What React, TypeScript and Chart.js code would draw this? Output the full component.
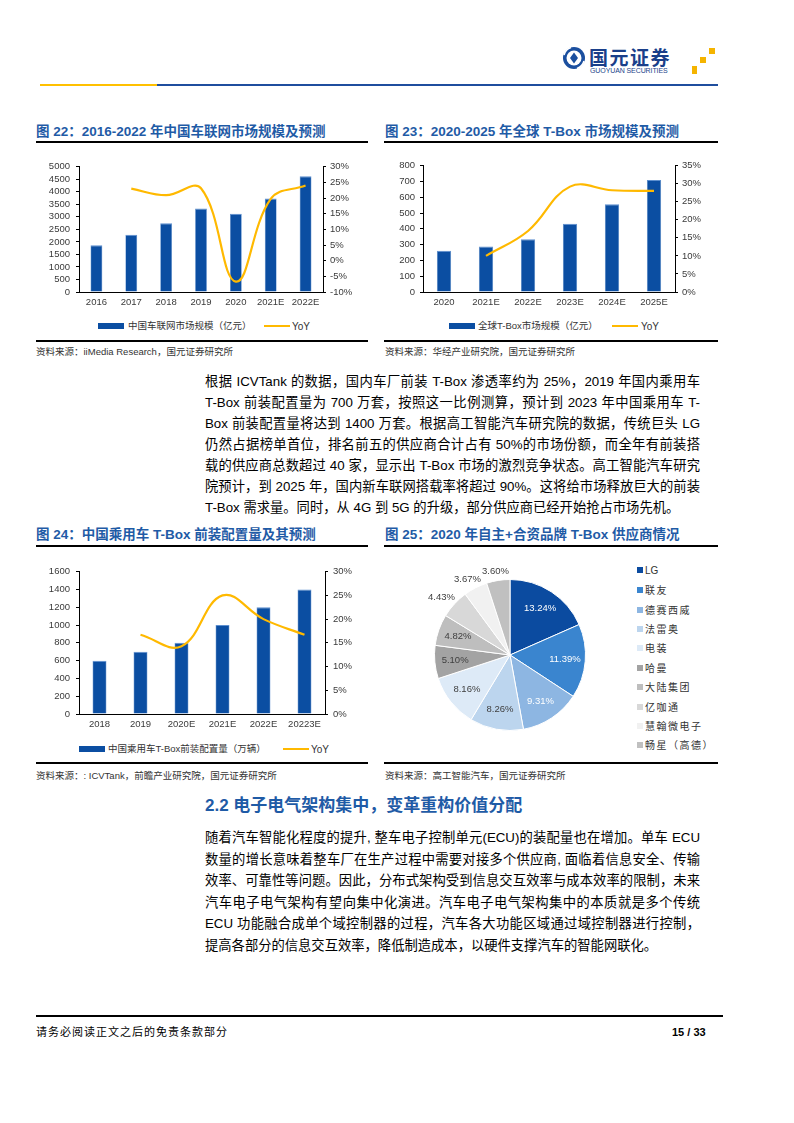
import React, { useEffect, useRef } from "react";
import { Chart, registerables } from "chart.js";

Chart.register(...registerables);

// ---------- data ----------
const years22 = ["2016", "2017", "2018", "2019", "2020", "2021E", "2022E"];
const size22 = [1870, 2285, 2740, 3330, 3120, 3730, 4620];
const yoy22 = [null, 23.0, 20.9, 23.1, -6.7, 19.7, 24.0];
const right22 = { min: -10, max: 30 };

const years23 = ["2020", "2021E", "2022E", "2023E", "2024E", "2025E"];
const size23 = [261, 288, 334, 432, 556, 710];
const yoy23 = [null, 10.0, 16.9, 29.2, 28.2, 28.0];

const years24 = ["2018", "2019", "2020E", "2021E", "2022E", "20223E"];
const size24 = [600, 700, 800, 1000, 1200, 1400];
const yoy24 = [null, 16.7, 14.3, 25.0, 20.0, 16.7];

const vendors25 = ["LG", "联友", "德赛西威", "法雷奥", "电装", "哈曼", "大陆集团", "亿咖通", "慧翰微电子", "畅星（高德）"];
const share25 = [13.24, 11.39, 9.31, 8.26, 8.16, 5.1, 4.82, 4.43, 3.67, 3.6];
const colors25 = ["#0B4BA0", "#3A85CF", "#8DB6E2", "#BCD5EE", "#DDEAF7", "#A3A3A3", "#BEBEBE", "#D8D8D8", "#F1F1F1", "#C0C0C0"];

const para1 = [
  "根据 ICVTank 的数据，国内车厂前装 T-Box 渗透率约为 25%，2019 年国内乘用车",
  "T-Box 前装配置量为 700 万套，按照这一比例测算，预计到 2023 年中国乘用车 T-",
  "Box 前装配置量将达到 1400 万套。根据高工智能汽车研究院的数据，传统巨头 LG",
  "仍然占据榜单首位，排名前五的供应商合计占有 50%的市场份额，而全年有前装搭",
  "载的供应商总数超过 40 家，显示出 T-Box 市场的激烈竞争状态。高工智能汽车研究",
  "院预计，到 2025 年，国内新车联网搭载率将超过 90%。这将给市场释放巨大的前装",
  "T-Box 需求量。同时，从 4G 到 5G 的升级，部分供应商已经开始抢占市场先机。",
];
const para2 = [
  "随着汽车智能化程度的提升, 整车电子控制单元(ECU)的装配量也在增加。单车 ECU",
  "数量的增长意味着整车厂在生产过程中需要对接多个供应商, 面临着信息安全、传输",
  "效率、可靠性等问题。因此，分布式架构受到信息交互效率与成本效率的限制，未来",
  "汽车电子电气架构有望向集中化演进。汽车电子电气架构集中的本质就是多个传统",
  "ECU 功能融合成单个域控制器的过程，汽车各大功能区域通过域控制器进行控制，",
  "提高各部分的信息交互效率，降低制造成本，以硬件支撑汽车的智能网联化。",
];

// ---------- styles ----------
const FONT = '"Liberation Sans", Arial, "Noto Sans CJK SC", sans-serif';
const BLUE = "#0B4EA2";
const GOLD = "#FFB900";
const TITLE = "#1F5BA6";
const TICK = "#3a3a3a";

type BLP = {
  labels: string[];
  values: number[];
  yoy: (number | null)[];
  barLabel: string;
  yMax: number;
  yStep: number;
  rMin: number;
  rMax: number;
  yW: number;
  rW: number;
  xH: number;
  padTop: number;
  xPad: number;
  yPad: number;
  rPad: number;
};

function barLineConfig(p: BLP): any {
  const tickFont = { family: FONT, size: 9.5 };
  const yGrid = { display: true, drawOnChartArea: false, drawTicks: true, tickLength: 3, color: "#000", lineWidth: 1 };
  return {
    type: "bar",
    data: {
      labels: p.labels,
      datasets: [
        {
          type: "line",
          label: "YoY",
          data: p.yoy,
          yAxisID: "y1",
          borderColor: GOLD,
          borderWidth: 2.2,
          pointRadius: 0,
          tension: 0.4,
          fill: false,
          order: 0,
        },
        {
          type: "bar",
          label: p.barLabel,
          data: p.values,
          yAxisID: "y",
          backgroundColor: BLUE,
          borderColor: "#5d8fcf",
          borderWidth: { top: 1, left: 0.6, right: 0.6, bottom: 0 },
          borderSkipped: "bottom",
          barPercentage: 0.34,
          categoryPercentage: 1,
          order: 1,
        },
      ],
    },
    options: {
      animation: false,
      responsive: true,
      maintainAspectRatio: false,
      layout: { padding: { top: p.padTop, left: 0, right: 0, bottom: 0 } },
      plugins: { legend: { display: false }, tooltip: { enabled: false } },
      scales: {
        x: {
          grid: { display: false, drawTicks: false },
          border: { display: true, color: "#000", width: 1 },
          ticks: { color: TICK, font: tickFont, padding: p.xPad, maxRotation: 0, autoSkip: false },
          afterFit: (s: any) => {
            s.height = p.xH;
          },
        },
        y: {
          position: "left",
          min: 0,
          max: p.yMax,
          ticks: { stepSize: p.yStep, autoSkip: false, color: TICK, font: tickFont, padding: p.yPad, callback: (v: any) => String(v) },
          grid: yGrid,
          border: { display: true, color: "#000", width: 1 },
          afterFit: (s: any) => {
            s.width = p.yW;
          },
        },
        y1: {
          position: "right",
          min: p.rMin,
          max: p.rMax,
          ticks: { stepSize: 5, autoSkip: false, color: TICK, font: tickFont, padding: p.rPad, callback: (v: any) => String(v) + "%" },
          grid: yGrid,
          border: { display: true, color: "#000", width: 1 },
          afterFit: (s: any) => {
            s.width = p.rW;
          },
        },
      },
    },
  };
}

const pieLabelPlugin = {
  id: "pieLabels",
  afterDatasetsDraw(chart: any) {
    const ctx = chart.ctx;
    const meta = chart.getDatasetMeta(0);
    ctx.save();
    ctx.font = '9.5px "Liberation Sans", Arial';
    ctx.textAlign = "center";
    ctx.textBaseline = "middle";
    meta.data.forEach((arc: any, i: number) => {
      const { startAngle, endAngle, x, y, outerRadius } = arc.getProps(["startAngle", "endAngle", "x", "y", "outerRadius"], true);
      const mid = (startAngle + endAngle) / 2;
      const txt = share25[i].toFixed(2) + "%";
      const c = Math.cos(mid);
      const s = Math.sin(mid);
      let lx: number;
      let ly: number;
      if (i >= 7) {
        const w = ctx.measureText(txt).width;
        const r = outerRadius + 4;
        lx = x + c * r + (c * w) / 2;
        ly = y + s * r + (s * 11) / 2;
      } else {
        const r = outerRadius * 0.73;
        lx = x + c * r;
        ly = y + s * r;
      }
      ctx.fillStyle = i < 3 ? "#ffffff" : "#404040";
      ctx.fillText(txt, lx, ly);
    });
    ctx.restore();
  },
};

function pieConfig(): any {
  return {
    type: "pie",
    data: {
      labels: vendors25,
      datasets: [
        {
          data: share25,
          backgroundColor: colors25,
          borderColor: "#ffffff",
          borderWidth: 1,
        },
      ],
    },
    options: {
      animation: false,
      responsive: true,
      maintainAspectRatio: false,
      layout: { padding: { left: 34, right: 34, top: 29, bottom: 29 } },
      plugins: { legend: { display: false }, tooltip: { enabled: false } },
    },
    plugins: [pieLabelPlugin],
  };
}

function ChartBox({ config, left, top, width, height }: { config: any; left: number; top: number; width: number; height: number }) {
  const ref = useRef<HTMLCanvasElement>(null);
  useEffect(() => {
    const c = new Chart(ref.current as HTMLCanvasElement, config);
    return () => c.destroy();
  }, []);
  return (
    <div style={{ position: "absolute", left, top, width, height }}>
      <canvas ref={ref} />
    </div>
  );
}

function T({ x, y, size, children, color = "#000", bold = false, style = {} }: any) {
  const lh = size * 1.3;
  return (
    <div
      style={{
        position: "absolute",
        left: x,
        top: y - lh / 2,
        fontSize: size,
        lineHeight: lh + "px",
        color,
        fontWeight: bold ? 700 : 400,
        fontFamily: FONT,
        whiteSpace: "nowrap",
        ...style,
      }}
    >
      {children}
    </div>
  );
}

function HLine({ x1, x2, y, h = 1.5, color = "#000" }: any) {
  return <div style={{ position: "absolute", left: x1, top: y - h / 2, width: x2 - x1, height: h, background: color }} />;
}

function Paragraph({ lines, x, top, width, size, lh }: any) {
  return (
    <div style={{ position: "absolute", left: x, top, width, fontSize: size, lineHeight: lh + "px", fontFamily: FONT, color: "#000" }}>
      {lines.map((l: string, i: number) => {
        const last = i === lines.length - 1;
        return (
          <div key={i} style={{ textAlign: last ? "left" : "justify", textAlignLast: last ? "left" : "justify" } as any}>
            {l}
          </div>
        );
      })}
    </div>
  );
}

function BarLegend({ y, barX, textX, lineX, yoyX, text }: any) {
  return (
    <>
      <div style={{ position: "absolute", left: barX, top: y - 3, width: 26, height: 6, background: BLUE }} />
      <T x={textX} y={y} size={9.5} color="#333">
        {text}
      </T>
      <div style={{ position: "absolute", left: lineX, top: y - 1.2, width: 26, height: 2.4, background: GOLD }} />
      <T x={yoyX} y={y} size={10} color="#333">
        YoY
      </T>
    </>
  );
}

const pieLegendY = [570, 590, 610, 629, 648, 668, 687, 707, 726, 745];

export default function App() {
  const c22 = barLineConfig({
    labels: years22,
    values: size22,
    yoy: yoy22,
    barLabel: "中国车联网市场规模（亿元）",
    yMax: 5000,
    yStep: 500,
    rMin: right22.min,
    rMax: right22.max,
    yW: 49,
    rW: 47,
    xH: 23,
    padTop: 9,
    xPad: 5,
    yPad: 6,
    rPad: 4,
  });
  const c23 = barLineConfig({
    labels: years23,
    values: size23,
    yoy: yoy23,
    barLabel: "全球T-Box市场规模（亿元）",
    yMax: 800,
    yStep: 100,
    rMin: 0,
    rMax: 35,
    yW: 43,
    rW: 45,
    xH: 23,
    padTop: 9,
    xPad: 5,
    yPad: 5,
    rPad: 4,
  });
  const c24 = barLineConfig({
    labels: years24,
    values: size24,
    yoy: yoy24,
    barLabel: "中国乘用车T-Box前装配置量（万辆）",
    yMax: 1600,
    yStep: 200,
    rMin: 0,
    rMax: 30,
    yW: 49,
    rW: 45,
    xH: 22,
    padTop: 9,
    xPad: 4.5,
    yPad: 6,
    rPad: 5,
  });
  const c25 = pieConfig();

  return (
    <div style={{ position: "absolute", left: 0, top: 0, width: 794, height: 1123, background: "#fff", overflow: "hidden", fontFamily: FONT }}>
      {/* header logo */}
      <svg style={{ position: "absolute", left: 562, top: 46 }} width={24} height={24} viewBox="0 0 24 24">
        <circle cx={12} cy={12} r={11} fill="#1B4F9F" />
        <circle cx={12} cy={12} r={7.5} fill="#ffffff" />
        <path d="M12 6.5 L16 12 L12 17.5 L8 12 Z" fill="#1B4F9F" />
        <path d="M2 9 A10.5 10.5 0 0 1 9 1.6" stroke="#ffffff" strokeWidth={1.6} fill="none" />
        <path d="M22 15 A10.5 10.5 0 0 1 15 22.4" stroke="#ffffff" strokeWidth={1.6} fill="none" />
      </svg>
      <T x={589} y={57} size={19} bold color="#1A3F8A" style={{ letterSpacing: 1.5, fontFamily: '"Noto Sans CJK SC", sans-serif' }}>
        国元证券
      </T>
      <T x={590} y={71} size={7} color="#1A3F8A" style={{ letterSpacing: -0.1 }}>
        GUOYUAN SECURITIES
      </T>
      <div style={{ position: "absolute", left: 709, top: 48, width: 6, height: 6, background: "#F5B400" }} />
      <div style={{ position: "absolute", left: 700, top: 57, width: 6, height: 6, background: "#F5B400" }} />
      <div style={{ position: "absolute", left: 692, top: 66, width: 5, height: 8, background: "#F5B400" }} />
      <HLine x1={40} x2={157} y={85} h={2} color="#FFC000" />
      <HLine x1={157} x2={718} y={85} h={2} color="#1F4E9E" />

      {/* figure 22 */}
      <T x={36} y={131.5} size={13.5} bold color={TITLE}>
        图 22：2016-2022 年中国车联网市场规模及预测
      </T>
      <HLine x1={36} x2={368} y={142} />
      <ChartBox config={c22} left={30} top={155} width={340} height={160} />
      <BarLegend y={326} barX={98} textX={128} lineX={264} yoyX={292} text="中国车联网市场规模（亿元）" />
      <HLine x1={36} x2={368} y={341} />
      <T x={36} y={352.5} size={9.5} color="#333">
        资料来源：iiMedia Research，国元证券研究所
      </T>

      {/* figure 23 */}
      <T x={385} y={131.5} size={13.5} bold color={TITLE}>
        图 23：2020-2025 年全球 T-Box 市场规模及预测
      </T>
      <HLine x1={384} x2={718} y={142} />
      <ChartBox config={c23} left={380} top={155} width={340} height={160} />
      <BarLegend y={326} barX={449} textX={478} lineX={612} yoyX={641} text="全球T-Box市场规模（亿元）" />
      <HLine x1={384} x2={718} y={341} />
      <T x={385} y={352.5} size={9.5} color="#333">
        资料来源：华经产业研究院，国元证券研究所
      </T>

      {/* paragraph 1 */}
      <Paragraph lines={para1} x={205} top={371} width={495} size={13.3} lh={21} />

      {/* figure 24 */}
      <T x={36} y={535} size={13.5} bold color={TITLE}>
        图 24：中国乘用车 T-Box 前装配置量及其预测
      </T>
      <HLine x1={36} x2={368} y={546} />
      <ChartBox config={c24} left={30} top={560} width={340} height={176} />
      <BarLegend y={749} barX={79} textX={108} lineX={283} yoyX={311} text="中国乘用车T-Box前装配置量（万辆）" />
      <HLine x1={36} x2={368} y={763} />
      <T x={36} y={776} size={9.5} color="#333">
        资料来源：: ICVTank，前瞻产业研究院，国元证券研究所
      </T>

      {/* figure 25 */}
      <T x={385} y={535} size={13.5} bold color={TITLE}>
        图 25：2020 年自主+合资品牌 T-Box 供应商情况
      </T>
      <HLine x1={384} x2={718} y={546} />
      <ChartBox config={c25} left={400} top={550} width={220} height={210} />
      {vendors25.map((v, i) => (
        <React.Fragment key={v}>
          <div style={{ position: "absolute", left: 637, top: pieLegendY[i] - 3, width: 6, height: 6, background: colors25[i] }} />
          <T x={645} y={pieLegendY[i]} size={10} color="#333" style={{ letterSpacing: i === 0 ? 0 : 1.5 }}>
            {v}
          </T>
        </React.Fragment>
      ))}
      <HLine x1={384} x2={718} y={763} />
      <T x={385} y={776} size={9.5} color="#333">
        资料来源：高工智能汽车，国元证券研究所
      </T>

      {/* section 2.2 */}
      <T x={205} y={806} size={17} bold color={TITLE}>
        2.2 电子电气架构集中，变革重构价值分配
      </T>
      <Paragraph lines={para2} x={205} top={827} width={495} size={13.3} lh={21.6} />

      {/* footer */}
      <HLine x1={36} x2={723} y={1016} h={2} />
      <T x={36} y={1032} size={11} color="#000" style={{ letterSpacing: 1 }}>
        请务必阅读正文之后的免责条款部分
      </T>
      <T x={672} y={1032} size={11} bold color="#000">
        15 / 33
      </T>
    </div>
  );
}
